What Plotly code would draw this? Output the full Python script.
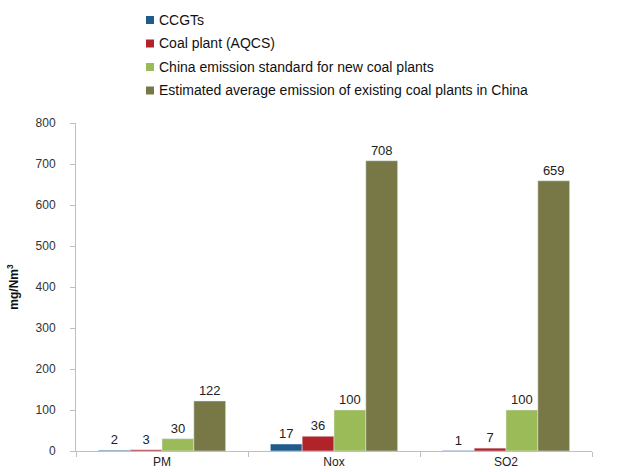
import plotly.graph_objects as go

categories = ["PM", "Nox", "SO2"]
series_names = [
    "CCGTs",
    "Coal plant (AQCS)",
    "China emission standard for new coal plants",
    "Estimated average emission of existing coal plants in China",
]
ccgts = [2, 17, 1]
coal_aqcs = [3, 36, 7]
china_std = [30, 100, 100]
existing = [122, 708, 659]
colors = ["#1F5C8C", "#B0232A", "#9BBB59", "#787846"]
y_ticks = [0, 100, 200, 300, 400, 500, 600, 700, 800]

W, H = 620, 472

fig = go.Figure()
for name, vals, col in zip(series_names, [ccgts, coal_aqcs, china_std, existing], colors):
    fig.add_trace(go.Bar(
        x=categories, y=vals, name=name, marker_color=col,
        text=[str(v) for v in vals], textposition="outside",
        textfont=dict(size=13, color="#222222"), cliponaxis=False,
        showlegend=False,
    ))

# manual legend (small squares + text), positioned in paper pixels
leg_x_px = 146
leg_y0_px = 20
leg_dy_px = 23.5
sq = 8
shapes = []
annotations = []
for i, (name, col) in enumerate(zip(series_names, colors)):
    yc = leg_y0_px + i * leg_dy_px
    shapes.append(dict(
        type="rect", xref="paper", yref="paper", layer="above",
        x0=(leg_x_px - 76) / (W - 76 - 28), x1=(leg_x_px + sq - 76) / (W - 76 - 28),
        y0=((H - 21) - (yc + sq / 2)) / (H - 123 - 21), y1=((H - 21) - (yc - sq / 2)) / (H - 123 - 21),
        fillcolor=col, line=dict(width=0),
    ))
    annotations.append(dict(
        text=name, xref="paper", yref="paper", showarrow=False,
        x=(leg_x_px + sq + 3 - 76) / (W - 76 - 28), xanchor="left",
        y=((H - 21) - yc) / (H - 123 - 21), yanchor="middle",
        font=dict(size=14, color="#111111"),
    ))

fig.update_layout(
    width=W, height=H,
    margin=dict(l=76, r=28, t=123, b=21),
    paper_bgcolor="white", plot_bgcolor="white",
    font=dict(family="Liberation Sans, Arial, sans-serif", size=12, color="#222222"),
    barmode="group", bargap=0.26, bargroupgap=0,
    showlegend=False,
    shapes=shapes, annotations=annotations,
    yaxis=dict(
        range=[0, 800], tickvals=y_ticks, showgrid=False, zeroline=False,
        showline=True, linecolor="#BFBFBF", linewidth=1,
        ticks="outside", ticklen=5, tickcolor="#BFBFBF", ticklabelstandoff=12,
        tickfont=dict(size=12, color="#333333"), automargin=False,
        title=dict(text="<b>mg/Nm<sup>3</sup></b>", font=dict(size=12, color="#111111"), standoff=14),
    ),
    xaxis=dict(
        showline=True, linecolor="#BFBFBF", linewidth=1, automargin=False,
        ticks="outside", ticklen=5, tickcolor="#BFBFBF", tickson="boundaries",
        tickfont=dict(size=12, color="#222222"),
    ),
)

fig.write_html("out.html")
